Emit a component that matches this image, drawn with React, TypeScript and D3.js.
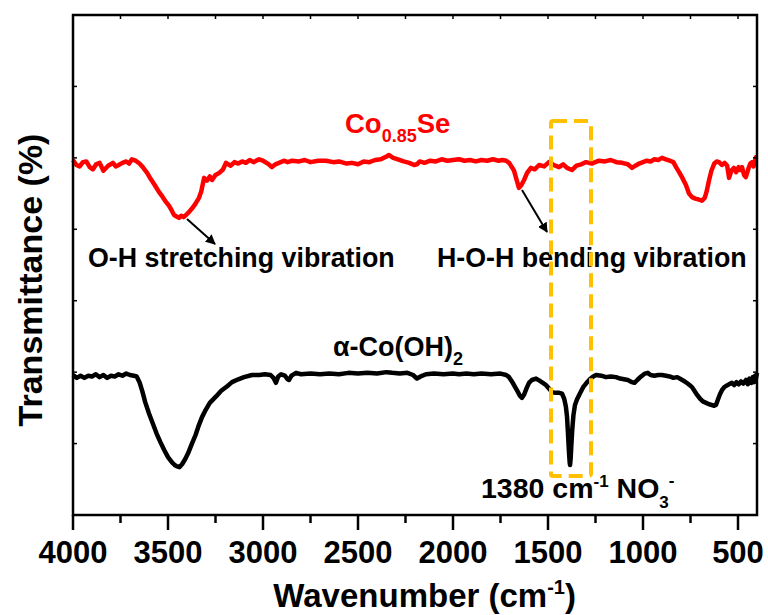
import React from "react";
import * as d3 from "d3";

// Co0.85Se spectrum: [wavenumber (cm-1), transmittance (a.u.)]
const coSeWavenumber = [
  4000, 3982, 3965, 3948, 3930, 3912, 3895, 3878, 3860, 3840, 3815, 3790, 3775, 3760, 3740, 3720, 3705, 3690, 3670, 3650,
  3630, 3610, 3590, 3570, 3547, 3530, 3510, 3495, 3480, 3468, 3455, 3442, 3430, 3418, 3405, 3390, 3374, 3355, 3337, 3325,
  3310, 3295, 3280, 3268, 3250, 3230, 3210, 3195, 3170, 3150, 3130, 3110, 3090, 3070, 3050, 3021, 3000, 2975, 2953, 2935,
  2916, 2890, 2870, 2847, 2810, 2780, 2750, 2710, 2668, 2630, 2600, 2560, 2532, 2500, 2470, 2440, 2410, 2380, 2350, 2337,
  2315, 2290, 2260, 2230, 2205, 2190, 2175, 2150, 2120, 2090, 2060, 2030, 2000, 1968, 1940, 1910, 1880, 1850, 1820, 1790,
  1760, 1740, 1720, 1705, 1690, 1679, 1666, 1653, 1640, 1626, 1610, 1590, 1570, 1547, 1520, 1495, 1470, 1442, 1420, 1400,
  1374, 1350, 1325, 1300, 1270, 1232, 1200, 1170, 1140, 1110, 1080, 1058, 1040, 1020, 1000, 980, 960, 940, 920, 900,
  880, 860, 840, 826, 810, 795, 774, 758, 742, 725, 710, 700, 690, 675, 665, 653, 640, 625, 612, 600,
  585, 570, 557, 547, 535, 522, 510, 497, 488, 479, 468, 459, 453, 444, 435, 426, 418, 410, 405, 400,
];
const coSeTransmittance = [
  49.7, 49.0, 48.8, 49.4, 49.5, 48.7, 48.4, 49.1, 49.3, 48.2, 48.9, 49.3, 48.8, 49.0, 49.3, 49.5, 49.2, 49.8, 49.6, 49.2,
  48.6, 47.9, 47.0, 46.2, 45.2, 44.6, 43.8, 43.3, 42.6, 42.0, 41.8, 41.6, 41.9, 41.7, 42.0, 42.4, 42.9, 43.6, 44.4, 45.3,
  47.2, 46.8, 47.4, 46.9, 47.6, 47.9, 48.4, 49.3, 48.9, 49.4, 49.2, 49.5, 49.3, 49.7, 49.4, 49.8, 49.6, 49.2, 48.7, 49.1,
  49.3, 49.6, 49.4, 49.6, 49.5, 49.7, 49.4, 49.6, 49.6, 49.4, 49.5, 49.2, 49.3, 49.1, 49.5, 49.4, 49.7, 49.8, 50.2, 50.4,
  50.0, 49.8, 49.5, 49.3, 49.0, 49.1, 49.5, 49.3, 49.6, 49.5, 49.8, 49.6, 49.7, 49.8, 49.6, 49.7, 49.5, 49.7, 49.6, 49.8,
  49.6, 49.7, 49.6, 49.3, 48.7, 48.2, 47.0, 45.8, 46.2, 46.9, 47.9, 48.6, 48.4, 49.0, 48.8, 49.4, 49.0, 48.7, 49.1, 48.6,
  48.3, 48.9, 49.1, 49.4, 49.2, 49.6, 49.5, 49.7, 49.4, 49.3, 49.1, 48.6, 48.9, 49.2, 49.4, 49.6, 49.5, 49.8, 49.7, 50.0,
  49.8, 49.6, 49.4, 48.7, 48.0, 47.3, 46.2, 45.0, 44.5, 44.3, 44.2, 44.1, 44.0, 44.4, 45.3, 46.8, 48.2, 49.2, 49.5, 49.4,
  49.0, 49.3, 48.9, 47.2, 48.2, 48.6, 48.0, 48.7, 48.3, 48.7, 47.6, 47.3, 47.8, 48.6, 49.2, 49.4, 48.8, 49.6, 50.1, 50.2,
];

// α-Co(OH)2 spectrum: [wavenumber (cm-1), transmittance (a.u.)]
const coOHWavenumber = [
  4000, 3980, 3960, 3940, 3920, 3900, 3880, 3860, 3840, 3820, 3800, 3780, 3760, 3740, 3720, 3700, 3680, 3665, 3650, 3635,
  3620, 3600, 3580, 3560, 3540, 3520, 3500, 3480, 3465, 3453, 3440, 3426, 3410, 3395, 3374, 3355, 3340, 3321, 3300, 3280,
  3247, 3220, 3190, 3163, 3130, 3100, 3058, 3020, 2990, 2960, 2945, 2932, 2920, 2905, 2885, 2870, 2863, 2850, 2826, 2800,
  2750, 2700, 2650, 2600, 2550, 2500, 2450, 2400, 2350, 2320, 2280, 2240, 2210, 2190, 2170, 2142, 2100, 2050, 2000, 1968,
  1930, 1890, 1850, 1800, 1750, 1720, 1705, 1690, 1675, 1660, 1648, 1637, 1625, 1612, 1600, 1585, 1563, 1545, 1527, 1511,
  1495, 1479, 1460, 1440, 1426, 1415, 1406, 1400, 1395, 1390, 1386, 1384, 1381, 1377, 1372, 1366, 1358, 1347, 1330, 1315,
  1300, 1280, 1262, 1247, 1220, 1195, 1170, 1142, 1120, 1100, 1080, 1058, 1045, 1030, 1010, 990, 975, 960, 940, 920,
  900, 879, 860, 840, 820, 800, 780, 760, 742, 720, 700, 685, 668, 652, 638, 625, 616, 605, 595, 584,
  572, 560, 548, 532, 520, 508, 496, 484, 472, 458, 448, 440, 430, 422, 415, 410, 405, 400,
];
const coOHTransmittance = [
  19.6, 19.2, 19.5, 19.2, 19.5, 19.4, 19.7, 19.3, 19.6, 19.2, 19.5, 19.4, 19.7, 19.5, 19.8, 19.6, 19.5, 19.4, 18.6, 17.3,
  15.8, 14.2, 12.8, 11.4, 10.2, 9.1, 8.1, 7.4, 7.0, 6.8, 6.7, 7.1, 7.8, 8.6, 10.0, 11.2, 12.4, 13.7, 14.8, 15.7,
  16.6, 17.4, 18.0, 18.6, 19.0, 19.3, 19.6, 19.6, 19.7, 19.6, 19.2, 18.5, 19.4, 19.7, 19.5, 19.0, 18.9, 19.5, 19.9, 19.7,
  19.8, 19.7, 19.8, 19.7, 19.9, 19.8, 19.9, 19.8, 20.0, 19.9, 19.8, 19.9, 19.6, 19.1, 19.4, 19.7, 19.8, 19.7, 19.8, 19.7,
  19.8, 19.7, 19.8, 19.7, 19.8, 19.6, 19.3, 18.7, 18.0, 17.3, 16.7, 16.4, 16.9, 17.8, 18.5, 18.9, 19.1, 18.8, 18.5, 18.2,
  17.7, 17.2, 17.1, 17.1, 17.0, 16.3, 15.2, 13.8, 11.5, 9.0, 7.4, 7.0, 7.8, 9.8, 12.1, 14.0, 15.4, 16.2, 17.1, 17.9,
  18.4, 19.0, 19.4, 19.6, 19.5, 19.3, 19.4, 19.3, 19.1, 19.0, 18.9, 18.6, 18.5, 18.9, 19.4, 19.8, 19.9, 19.6, 19.5, 19.6,
  19.6, 19.5, 19.4, 19.2, 19.3, 19.0, 18.7, 18.3, 17.9, 17.0, 16.3, 15.9, 15.7, 15.5, 15.4, 15.3, 15.4, 16.2, 16.9, 17.5,
  17.9, 18.1, 18.3, 18.5, 18.2, 18.6, 18.3, 18.7, 18.4, 18.9, 18.3, 19.1, 18.5, 19.3, 18.6, 19.5, 19.2, 19.9,
];

const xTickLabels = [4000, 3500, 3000, 2500, 2000, 1500, 1000, 500];
const xMinorTicks = [3750, 3250, 2750, 2250, 1750, 1250, 750];
const yTickValues = [0, 10, 20, 30, 40, 50, 60, 70];

const FONT = "'Liberation Sans', Arial, Helvetica, sans-serif";

export default function App() {
  const W = 768;
  const H = 615;
  const left = 73, right = 757, top = 15, bottom = 515;
  const x = d3.scaleLinear().domain([4000, 400]).range([left, right]);
  const y = d3.scaleLinear().domain([0, 70]).range([bottom, top]);

  const redData = coSeWavenumber.map((w, i) => [w, coSeTransmittance[i]] as [number, number]);
  const blackData = coOHWavenumber.map((w, i) => [w, coOHTransmittance[i]] as [number, number]);
  const line = d3
    .line<[number, number]>()
    .x((d) => x(d[0]))
    .y((d) => y(d[1]));

  const topTicks = [...xTickLabels, ...xMinorTicks];

  return (
    <svg
      width={W}
      height={H}
      style={{ position: "absolute", left: 0, top: 0, background: "#fff" }}
      fontFamily={FONT}
    >
      <defs>
        <marker
          id="arrow"
          viewBox="0 0 10 10"
          refX="9"
          refY="5"
          markerWidth="5"
          markerHeight="5"
          orient="auto"
          markerUnits="strokeWidth"
        >
          <path d="M0,0 L10,5 L0,10 z" fill="#000" />
        </marker>
      </defs>
      <rect x={0} y={0} width={W} height={H} fill="#fff" />

      {/* spectra */}
      <path d={line(redData) || ""} fill="none" stroke="#ff0000" strokeWidth={4.5} strokeLinejoin="round" />
      <path d={line(blackData) || ""} fill="none" stroke="#000" strokeWidth={4.5} strokeLinejoin="round" />

      {/* annotations */}
      <text x={345} y={133} fill="#ff0000" fontWeight="bold" fontSize={27.5}>
        Co
        <tspan fontSize={18} dy={9}>0.85</tspan>
        <tspan dy={-9}>Se</tspan>
      </text>
      <text x={333} y={356} fill="#000" fontWeight="bold" fontSize={27}>
        α-Co(OH)
        <tspan fontSize={18} dy={9}>2</tspan>
      </text>
      <text x={88} y={267} fill="#000" fontWeight="bold" fontSize={26.8}>
        O-H stretching vibration
      </text>
      <text x={437} y={267} fill="#000" fontWeight="bold" fontSize={26.8}>
        H-O-H bending vibration
      </text>
      <text x={481} y={498} fill="#000" fontWeight="bold" fontSize={28.5}>
        1380 cm
        <tspan fontSize={17} dy={-11}>-1</tspan>
        <tspan dy={11}> NO</tspan>
        <tspan fontSize={17} dy={10}>3</tspan>
        <tspan fontSize={17} dy={-22}>-</tspan>
      </text>
      <line x1={187} y1={219} x2={215} y2={244} stroke="#000" strokeWidth={2} markerEnd="url(#arrow)" />
      <line x1={522} y1={190} x2={547} y2={232} stroke="#000" strokeWidth={2} markerEnd="url(#arrow)" />

      {/* highlighted box */}
      <rect
        x={551}
        y={121}
        width={40}
        height={355}
        rx={2}
        fill="none"
        stroke="#ffc000"
        strokeWidth={4}
        strokeDasharray="14 7"
      />

      {/* frame */}
      <rect x={left} y={top} width={right - left} height={bottom - top} fill="none" stroke="#000" strokeWidth={2.5} />

      {/* bottom axis ticks */}
      {xTickLabels.map((t) => (
        <g key={"M" + t}>
          <line x1={x(t)} x2={x(t)} y1={bottom} y2={bottom + 15} stroke="#000" strokeWidth={2.5} />
          <text x={x(t)} y={563} textAnchor="middle" fontWeight="bold" fontSize={31} fill="#000">
            {t}
          </text>
        </g>
      ))}
      {xMinorTicks.map((t) => (
        <line key={"m" + t} x1={x(t)} x2={x(t)} y1={bottom} y2={bottom + 8} stroke="#000" strokeWidth={2.5} />
      ))}
      {/* top axis ticks */}
      {topTicks.map((t) => (
        <line key={"t" + t} x1={x(t)} x2={x(t)} y1={top} y2={top + 4} stroke="#000" strokeWidth={1.5} />
      ))}
      {/* left / right ticks */}
      {yTickValues.map((v) => (
        <g key={"y" + v}>
          <line x1={left} x2={left + 4} y1={y(v)} y2={y(v)} stroke="#000" strokeWidth={1.5} />
          <line x1={right - 4} x2={right} y1={y(v)} y2={y(v)} stroke="#000" strokeWidth={1.5} />
        </g>
      ))}

      {/* axis titles */}
      <text x={576} y={607} textAnchor="end" fontWeight="bold" fontSize={33} fill="#000">
        Wavenumber (cm
        <tspan fontSize={20} dy={-13}>-1</tspan>
        <tspan dy={13}>)</tspan>
      </text>
      <text
        transform="translate(42,280) rotate(-90)"
        textAnchor="middle"
        fontWeight="bold"
        fontSize={34}
        fill="#000"
      >
        Transmittance (%)
      </text>
    </svg>
  );
}
